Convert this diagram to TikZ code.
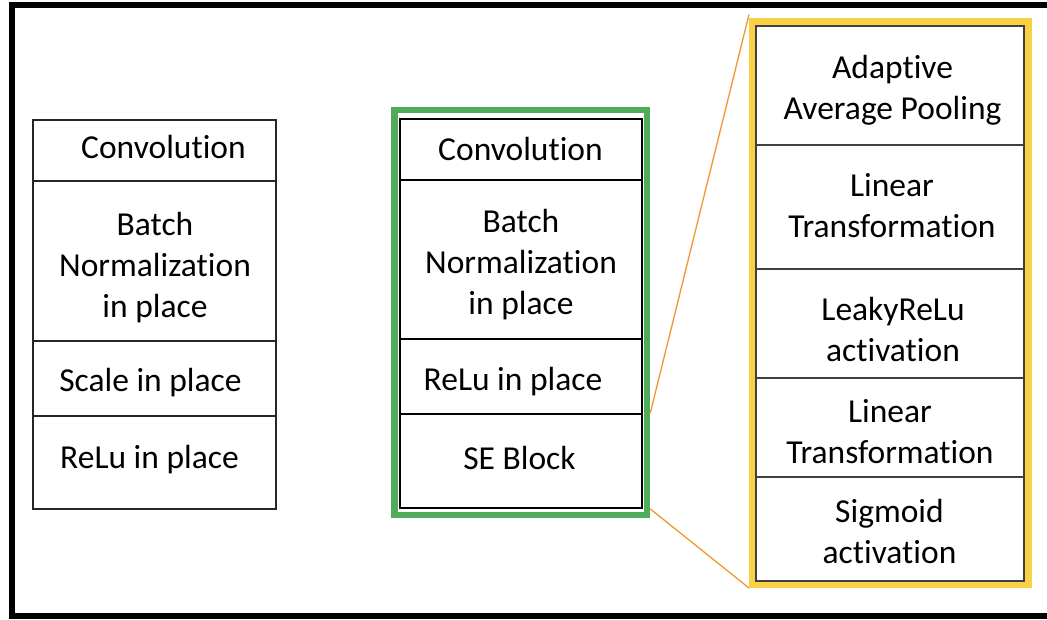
\documentclass[tikz,border=0pt]{standalone}
\usepackage{fontspec}
\setmainfont{Carlito}[Ligatures=NoCommon]
\definecolor{frgreen}{RGB}{80,172,88}
\definecolor{fryellow}{RGB}{250,208,70}
\definecolor{zoomline}{RGB}{240,150,50}
\begin{document}
\begin{tikzpicture}[x=1pt,y=-1pt,
  lcell/.style={draw=black!85,line width=1.3pt,inner sep=0pt,minimum width=243pt},
  gcell/.style={draw=black,line width=1.8pt,inner sep=0pt,minimum width=242pt},
  ycell/.style={draw=black!75,line width=1.5pt,inner sep=0pt,minimum width=268pt},
  txt/.style={inner sep=0pt,align=center,font=\fontsize{33.5}{41}\selectfont},
  zoomcon/.style={draw=zoomline,line width=1.3pt}]
\useasboundingbox (0,0) rectangle (1047,619);
\clip (0,0) rectangle (1047,619);
\draw[line width=6pt] (12,5) rectangle (1070,616);
% left stack
\node[lcell,minimum height=61pt] (l1) at (154.5,150.5) {};
\node[lcell,minimum height=160pt] (l2) at (154.5,261) {};
\node[lcell,minimum height=75pt] (l3) at (154.5,378.5) {};
\node[lcell,minimum height=93pt] (l4) at (154.5,462.5) {};
\node[txt] (lt1) at (163.5,146.5) {Convolution};
\node[txt] (lt2) at (155,267.5) {Batch\\Normalization\\in place};
\node[txt] (lt3) at (150.5,382.5) {Scale in place};
\node[txt] (lt4) at (149.5,459.5) {ReLu in place};
% green stack
\node[draw=frgreen,line width=6.5pt,inner sep=0pt,minimum width=252.5pt,minimum height=405pt] (gframe) at (520.75,312.5) {};
\node[gcell,minimum height=61pt] (g1) at (521,149.5) {};
\node[gcell,minimum height=159pt] (g2) at (521,259.5) {};
\node[gcell,minimum height=75pt] (g3) at (521,376.5) {};
\node[gcell,minimum height=94pt] (g4) at (521,461) {};
\node[txt] (gt1) at (520.5,149) {Convolution};
\node[txt] (gt2) at (521,264.5) {Batch\\Normalization\\in place};
\node[txt] (gt3) at (513,381.5) {ReLu in place};
\node[txt] (gt4) at (519.5,457.5) {SE Block};
% yellow stack
\node[draw=fryellow,line width=7pt,inner sep=0pt,minimum width=276pt,minimum height=563pt] (yframe) at (890.5,303) {};
\node[ycell,minimum height=119pt] (y1) at (890,85.5) {};
\node[ycell,minimum height=124pt] (y2) at (890,207) {};
\node[ycell,minimum height=109pt] (y3) at (890,323.5) {};
\node[ycell,minimum height=99pt] (y4) at (890,427.5) {};
\node[ycell,minimum height=104pt] (y5) at (890,529) {};
\node[txt] (yt1) at (892.5,90) {Adaptive\\Average Pooling};
\node[txt] (yt2) at (892,206) {Linear\\Transformation};
\node[txt] (yt3) at (893,329) {LeakyReLu\\activation};
\node[txt] (yt4) at (890,432) {Linear\\Transformation};
\node[txt] (yt5) at (889.5,531.5) {Sigmoid\\activation};
% zoom connectors
\draw[zoomcon] (gframe.east |- g4.north) -- ([yshift=3.5pt]yframe.north west);
\draw[zoomcon] (gframe.east |- g4.south) -- (yframe.south west);
\end{tikzpicture}
\end{document}
